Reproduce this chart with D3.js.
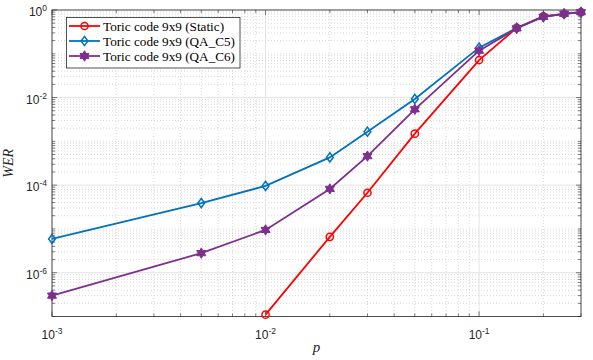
<!DOCTYPE html>
<html><head><meta charset="utf-8">
<script src="https://cdn.jsdelivr.net/npm/d3@7"></script>
<style>body{margin:0;background:#fff;} svg{display:block;}</style>
</head><body>
<script>
// ---- data ----
const pAll = [0.001, 0.005, 0.01, 0.02, 0.03, 0.05, 0.1, 0.15, 0.2, 0.25, 0.3];
const pStatic = [0.01, 0.02, 0.03, 0.05, 0.1, 0.15, 0.2, 0.25, 0.3];
const werStatic = [1.1e-7, 6.6e-6, 6.7e-5, 1.5e-3, 0.072, 0.39, 0.72, 0.82, 0.89];
const werQA_C5 = [5.9e-6, 3.9e-5, 9.6e-5, 4.3e-4, 1.66e-3, 9.3e-3, 0.138, 0.39, 0.70, 0.82, 0.89];
const werQA_C6 = [3.0e-7, 2.8e-6, 9.5e-6, 8.2e-5, 4.6e-4, 5.4e-3, 0.118, 0.38, 0.70, 0.82, 0.89];
const seriesNames = ["Toric code 9x9 (Static)", "Toric code 9x9 (QA_C5)", "Toric code 9x9 (QA_C6)"];
const xTickExp = [-3, -2, -1];
const yTickExp = [0, -2, -4, -6];

const W = 593, H = 360;
const m = {left: 52, right: 581, top: 10, bottom: 316.5};
const svg = d3.select("body").append("svg").attr("width", W).attr("height", H);

const x = d3.scaleLog().domain([1e-3, 0.3]).range([m.left, m.right]);
const y = d3.scaleLog().domain([1e-7, 1]).range([m.bottom, m.top]);

const axisCol = "#262626";
const g = svg.append("g");

// minor values
const xMinor = [], yMinor = [];
for (let k = -3; k <= -1; k++) for (let j = 1; j <= 9; j++) { const v = j * Math.pow(10, k); if (v <= 0.3 + 1e-12 && v >= 1e-3) xMinor.push(v); }
for (let k = -7; k <= 0; k++) for (let j = 1; j <= 9; j++) { const v = j * Math.pow(10, k); if (v <= 1 + 1e-12) yMinor.push(v); }
const isMajorX = v => xTickExp.some(e => Math.abs(v - Math.pow(10, e)) < 1e-12);
const isMajorY = v => yTickExp.some(e => Math.abs(Math.log10(v) - e) < 1e-9);

// grid
g.selectAll(".gxm").data(xMinor.filter(v => !isMajorX(v))).join("line")
  .attr("x1", d => x(d)).attr("x2", d => x(d)).attr("y1", m.top).attr("y2", m.bottom)
  .attr("stroke", "#cfcfcf").attr("stroke-width", 0.8).attr("stroke-dasharray", "1,2");
g.selectAll(".gym").data(yMinor.filter(v => !isMajorY(v))).join("line")
  .attr("y1", d => y(d)).attr("y2", d => y(d)).attr("x1", m.left).attr("x2", m.right)
  .attr("stroke", "#cfcfcf").attr("stroke-width", 0.8).attr("stroke-dasharray", "1,2");
g.selectAll(".gxM").data(xTickExp.map(e => Math.pow(10, e))).join("line")
  .attr("x1", d => x(d)).attr("x2", d => x(d)).attr("y1", m.top).attr("y2", m.bottom)
  .attr("stroke", "#e3e3e3").attr("stroke-width", 1);
g.selectAll(".gyM").data(yTickExp.map(e => Math.pow(10, e))).join("line")
  .attr("y1", d => y(d)).attr("y2", d => y(d)).attr("x1", m.left).attr("x2", m.right)
  .attr("stroke", "#e3e3e3").attr("stroke-width", 1);

// ticks (inside, all four sides)
const tk = g.append("g").attr("stroke", axisCol).attr("stroke-width", 0.6);
xMinor.forEach(v => {
  const L = isMajorX(v) ? 5 : 3;
  tk.append("line").attr("x1", x(v)).attr("x2", x(v)).attr("y1", m.bottom).attr("y2", m.bottom - L);
  tk.append("line").attr("x1", x(v)).attr("x2", x(v)).attr("y1", m.top).attr("y2", m.top + L);
});
yMinor.forEach(v => {
  const L = isMajorY(v) ? 5 : 3;
  tk.append("line").attr("y1", y(v)).attr("y2", y(v)).attr("x1", m.left).attr("x2", m.left + L);
  tk.append("line").attr("y1", y(v)).attr("y2", y(v)).attr("x1", m.right).attr("x2", m.right - L);
});

// box
g.append("rect").attr("x", m.left).attr("y", m.top).attr("width", m.right - m.left).attr("height", m.bottom - m.top)
  .attr("fill", "none").attr("stroke", axisCol).attr("stroke-width", 0.8);

// tick labels
const lab = svg.append("g").attr("font-family", "Liberation Sans, Arial, sans-serif").attr("fill", axisCol).attr("font-size", 12);
xTickExp.forEach(e => {
  const t = lab.append("text").attr("x", x(Math.pow(10, e))).attr("y", m.bottom + 22).attr("text-anchor", "middle");
  t.append("tspan").text("10");
  t.append("tspan").attr("dy", -5).attr("font-size", 8.5).text(String(e));
});
yTickExp.forEach(e => {
  const t = lab.append("text").attr("x", m.left - 5).attr("y", y(Math.pow(10, e)) + 6).attr("text-anchor", "end");
  t.append("tspan").text("10");
  t.append("tspan").attr("dy", -5).attr("font-size", 8.5).text(String(e));
});

// axis labels
svg.append("text").attr("x", (m.left + m.right) / 2).attr("y", 352).attr("text-anchor", "middle")
  .attr("font-family", "Liberation Serif, serif").attr("font-style", "italic").attr("font-size", 15).attr("fill", axisCol).text("p");
svg.append("text").attr("transform", `translate(13,${(m.top + m.bottom) / 2}) rotate(-90)`).attr("text-anchor", "middle")
  .attr("font-family", "Liberation Serif, serif").attr("font-style", "italic").attr("font-size", 14).attr("fill", axisCol).text("WER");

// markers
function hexagram(r) {
  const pts = [];
  for (let i = 0; i < 12; i++) {
    const a = -Math.PI / 2 + i * Math.PI / 6;
    const rr = i % 2 === 0 ? r : r / Math.sqrt(3);
    pts.push([rr * Math.cos(a), rr * Math.sin(a)]);
  }
  return "M" + pts.map(p => p.join(",")).join("L") + "Z";
}
const markers = {
  circle: (sel, c) => sel.append("circle").attr("r", 3.6).attr("fill", "none").attr("stroke", c).attr("stroke-width", 1.5),
  diamond: (sel, c) => sel.append("path").attr("d", "M0,-4.6L3.4,0L0,4.6L-3.4,0Z").attr("fill", "none").attr("stroke", c).attr("stroke-width", 1.5),
  hexagram: (sel, c) => sel.append("path").attr("d", hexagram(5.2)).attr("fill", c).attr("stroke", c).attr("stroke-width", 1)
};

const series = [
  {name: seriesNames[0], xs: pStatic, ys: werStatic, color: "#FF0000", marker: "circle"},
  {name: seriesNames[1], xs: pAll, ys: werQA_C5, color: "#0072BD", marker: "diamond"},
  {name: seriesNames[2], xs: pAll, ys: werQA_C6, color: "#7E2F8E", marker: "hexagram"}
];
const line = d3.line().x(d => x(d[0])).y(d => y(d[1]));
series.forEach(s => {
  const pts = s.xs.map((v, i) => [v, s.ys[i]]);
  svg.append("path").attr("d", line(pts)).attr("fill", "none").attr("stroke", s.color).attr("stroke-width", 1.8);
  pts.forEach(p => {
    const gg = svg.append("g").attr("transform", `translate(${x(p[0])},${y(p[1])})`);
    markers[s.marker](gg, s.color);
  });
});

// legend
const lg = svg.append("g");
lg.append("rect").attr("x", 66.5).attr("y", 17.5).attr("width", 173.5).attr("height", 50.5)
  .attr("fill", "#fff").attr("stroke", axisCol).attr("stroke-width", 0.8);
series.forEach((s, i) => {
  const yy = 26 + i * 15;
  lg.append("line").attr("x1", 69).attr("x2", 100).attr("y1", yy).attr("y2", yy).attr("stroke", s.color).attr("stroke-width", 1.8);
  const gg = lg.append("g").attr("transform", `translate(84.5,${yy})`);
  markers[s.marker](gg, s.color);
  lg.append("text").attr("x", 103).attr("y", yy + 4.5).attr("font-family", "Liberation Serif, serif").attr("font-size", 13.2)
    .attr("fill", "#000").text(s.name);
});
</script>
</body></html>
